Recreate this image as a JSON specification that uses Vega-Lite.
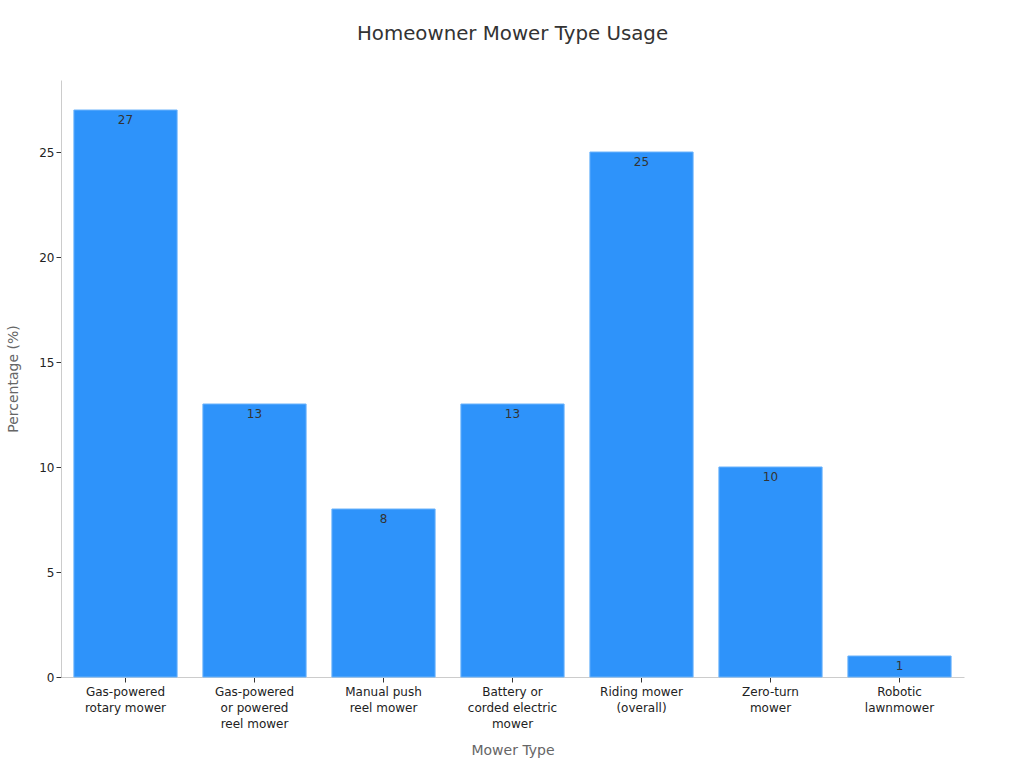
{
  "$schema": "https://vega.github.io/schema/vega-lite/v6.json",
  "width": 903,
  "height": 597,
  "autosize": {"type": "none"},
  "padding": {"left": 61, "top": 80, "right": 60, "bottom": 91},
  "background": "white",
  "config": {
    "font": "DejaVu Sans",
    "view": {"stroke": null}
  },
  "title": {
    "text": "Homeowner Mower Type Usage",
    "fontSize": 19.8,
    "fontWeight": "normal",
    "color": "#333333",
    "anchor": "middle",
    "offset": 36
  },
  "data": {
    "values": [
      {"type": "Gas-powered\nrotary mower", "pct": 27},
      {"type": "Gas-powered\nor powered\nreel mower", "pct": 13},
      {"type": "Manual push\nreel mower", "pct": 8},
      {"type": "Battery or\ncorded electric\nmower", "pct": 13},
      {"type": "Riding mower\n(overall)", "pct": 25},
      {"type": "Zero-turn\nmower", "pct": 10},
      {"type": "Robotic\nlawnmower", "pct": 1}
    ]
  },
  "encoding": {
    "x": {
      "field": "type",
      "type": "nominal",
      "sort": null,
      "scale": {"paddingInner": 0.2, "paddingOuter": 0.1},
      "axis": {
        "title": "Mower Type",
        "titleFontSize": 14,
        "titleFontWeight": "normal",
        "titleColor": "#666666",
        "titlePadding": 14,
        "labelAngle": 0,
        "labelFontSize": 12,
        "labelColor": "#222222",
        "labelLineHeight": 16,
        "labelExpr": "split(datum.label, '\\n')",
        "labelPadding": 4,
        "domainColor": "#cccccc",
        "tickColor": "#333333",
        "tickSize": 5
      }
    },
    "y": {
      "field": "pct",
      "type": "quantitative",
      "scale": {"domain": [0, 28.43], "nice": false},
      "axis": {
        "title": "Percentage (%)",
        "titleFontSize": 14,
        "titleFontWeight": "normal",
        "titleColor": "#666666",
        "titlePadding": 18,
        "labelFontSize": 12,
        "labelColor": "#222222",
        "values": [0, 5, 10, 15, 20, 25],
        "grid": false,
        "domainColor": "#cccccc",
        "tickColor": "#333333",
        "tickSize": 5
      }
    }
  },
  "layer": [
    {
      "mark": {"type": "bar", "color": "#2E93FA", "stroke": "#6BB3FB", "strokeWidth": 1}
    },
    {
      "mark": {"type": "text", "baseline": "top", "dy": 5, "fontSize": 12, "color": "#333333"},
      "encoding": {"text": {"field": "pct", "type": "quantitative"}}
    }
  ]
}
